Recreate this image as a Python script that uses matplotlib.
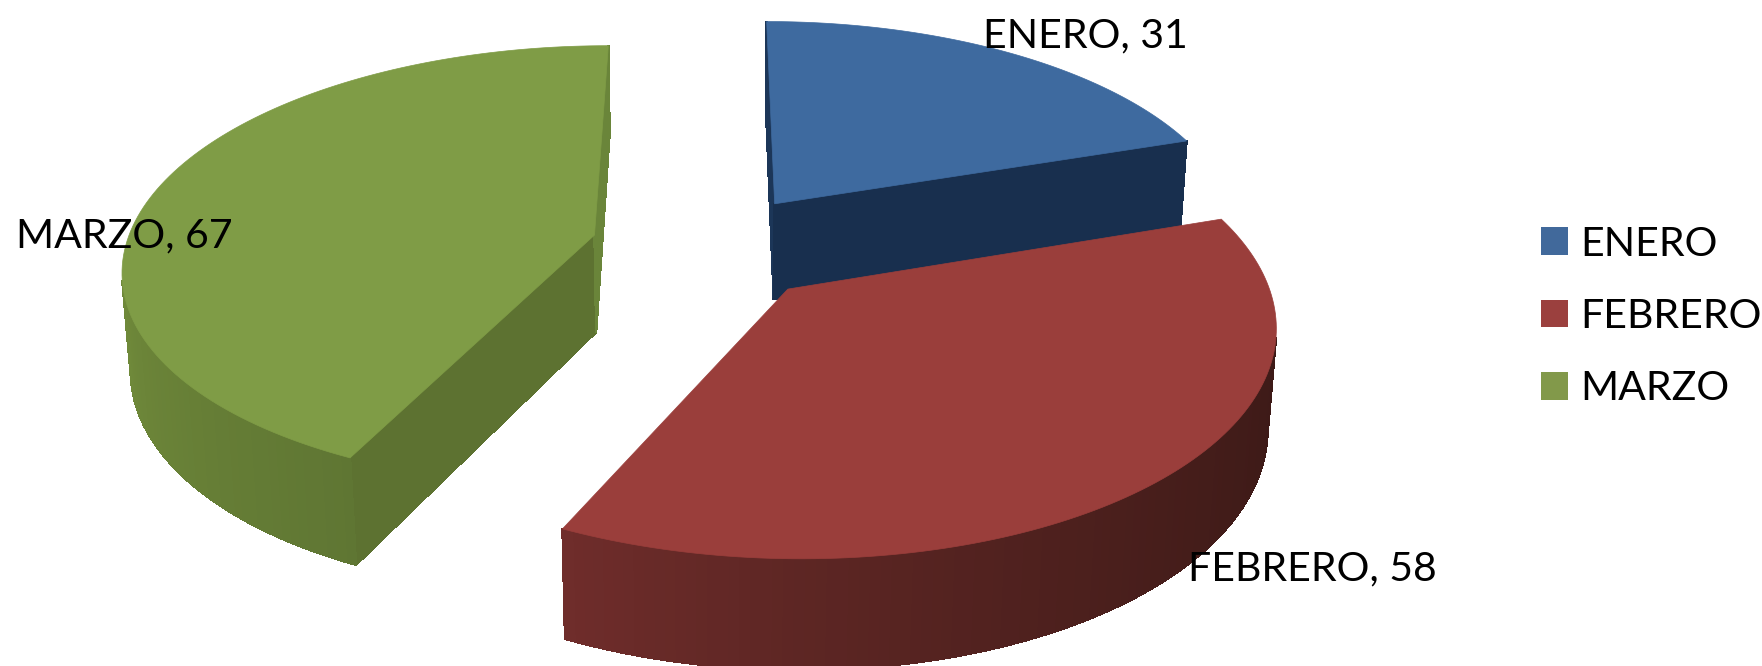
import numpy as np
import matplotlib
matplotlib.use('Agg')
import matplotlib.pyplot as plt
from matplotlib.colors import to_rgb
from matplotlib.patches import Patch, Polygon

plt.rcParams['font.family'] = ['Lato', 'DejaVu Sans']

months = ['ENERO', 'FEBRERO', 'MARZO']
values = [31, 58, 67]
top_colors = ['#3e6a9f', '#9a3e3b', '#7f9c46']
legend_colors = ['#41699b', '#9b403e', '#82994a']
cut_start_colors = ['#1c3658', '#3a1916', '#5d7231']
cut_end_colors = ['#182f4e', '#3a1916', '#6a853a']
# wall colour at the start and end of each slice's rim, and how fast it changes
rim_colors = [('#182f4e', '#182f4e', 1.0), ('#3a1916', '#702d2b', 2.0), ('#5f7633', '#8fae48', 1.0)]
label_pos = [(983, 47), (1188, 580), (16, 247)]

explode = 0.25
cx, cy = 708, 247
ax_x, ax_y, depth = 469, 219, 99
persp = 0.14
persp_z = 0.015


def project(x, y, z=0.0):
    s = 1 / (1 + persp * y + persp_z * z)
    return cx + ax_x * x * s, cy - ax_y * y * s + depth * z * s


def mix(c1, c2, t):
    a, b = np.array(to_rgb(c1)), np.array(to_rgb(c2))
    return tuple(a + (b - a) * t)


fig = plt.figure(figsize=(17.62, 6.66), dpi=100)
ax = fig.add_axes([0, 0, 1, 1])
ax.set_xlim(0, 1762)
ax.set_ylim(666, 0)
ax.axis('off')

edges = np.cumsum([0] + values) / sum(values) * 2 * np.pi

# back slices first so that FEBRERO ends up in front
for i in [0, 2, 1]:
    t = np.linspace(edges[i], edges[i + 1], 121)
    mid = (edges[i] + edges[i + 1]) / 2
    ox, oy = explode * np.sin(mid), explode * np.cos(mid)
    xs = np.r_[ox, ox + np.sin(t)]
    ys = np.r_[oy, oy + np.cos(t)]
    n = len(xs)
    for j in range(n):
        k = (j + 1) % n
        p = [project(xs[j], ys[j]), project(xs[k], ys[k]),
             project(xs[k], ys[k], 1), project(xs[j], ys[j], 1)]
        area = sum(p[m][0] * p[(m + 1) % 4][1] - p[(m + 1) % 4][0] * p[m][1] for m in range(4))
        if area >= 0:
            continue
        if j == 0:
            col = cut_start_colors[i]
        elif j == n - 1:
            col = cut_end_colors[i]
        else:
            c1, c2, power = rim_colors[i]
            col = mix(c1, c2, (j / (n - 1)) ** power)
        ax.add_patch(Polygon(p, closed=True, facecolor=col, edgecolor=col, lw=1, antialiased=False))
    top = [project(a, b) for a, b in zip(xs, ys)]
    ax.add_patch(Polygon(top, closed=True, facecolor=top_colors[i], edgecolor=top_colors[i], lw=0.5))

for name, val, pos in zip(months, values, label_pos):
    ax.text(pos[0], pos[1], f'{name}, {val}', fontsize=29.5, color='black', va='baseline', ha='left')

handles = [Patch(facecolor=c, label=m) for c, m in zip(legend_colors, months)]
ax.legend(handles=handles, loc='center left', bbox_to_anchor=(1541 / 1762, 1 - 316.5 / 666),
          frameon=False, fontsize=29.5, handlelength=0.66, handleheight=0.66,
          handletextpad=0.29, labelspacing=0.865, borderpad=0, borderaxespad=0)

fig.savefig('out.png', dpi=100)
